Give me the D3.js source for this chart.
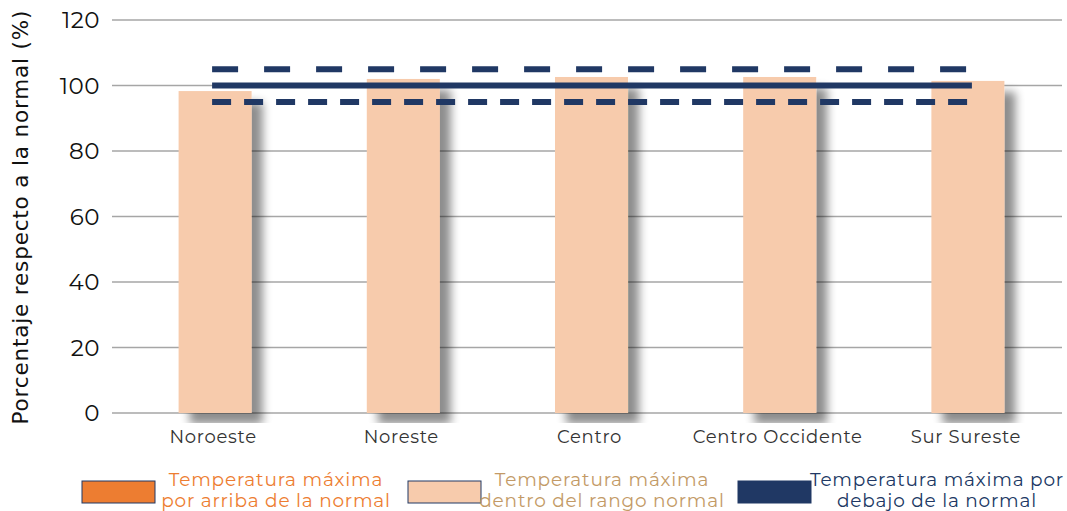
<!DOCTYPE html>
<html>
<head>
<meta charset="utf-8">
<script src="https://cdn.jsdelivr.net/npm/d3@7"></script>
<style>
  body { margin: 0; background: #fff; }
  svg { display: block; }
</style>
</head>
<body>
<div id="chart"></div>
<script>
// regions and their % of normal (max temperature)
var regions = ["Noroeste", "Noreste", "Centro", "Centro Occidente", "Sur Sureste"]
var values = [98.3, 102, 102.6, 102.6, 101.4]

// reference lines: lower limit, normal, upper limit
var refLines = [
    { value: 95, dash: "19,13" },
    { value: 100, dash: null },
    { value: 105, dash: "26,26" }
]

var yTicks = [0, 20, 40, 60, 80, 100, 120]

var legendItems = [
    { label: ["Temperatura máxima", "por arriba de la normal"], fill: "#ED7D31", text: "#ED7D31" },
    { label: ["Temperatura máxima", "dentro del rango normal"], fill: "#F7CBAC", text: "#C39A66" },
    { label: ["Temperatura máxima por", "debajo de la normal"], fill: "#203864", text: "#203864" }
]

var width = 1067
var height = 511
var navy = "#203864"
var font = "'Montserrat', 'Noto Sans', 'Open Sans', sans-serif"

var svg = d3.select("#chart").append("svg")
    .attr("width", width)
    .attr("height", height)

var defs = svg.append("defs")
var shadow = defs.append("filter")
    .attr("id", "shadow")
    .attr("x", "-30%").attr("y", "-10%")
    .attr("width", "180%").attr("height", "130%")
shadow.append("feGaussianBlur").attr("in", "SourceAlpha").attr("stdDeviation", 5).attr("result", "b")
shadow.append("feOffset").attr("in", "b").attr("dx", 11).attr("dy", 11).attr("result", "o")
shadow.append("feComponentTransfer").attr("in", "o").attr("result", "s")
    .append("feFuncA").attr("type", "linear").attr("slope", 0.45)
var merge = shadow.append("feMerge")
merge.append("feMergeNode").attr("in", "s")
merge.append("feMergeNode").attr("in", "SourceGraphic")

var y = d3.scaleLinear().domain([0, 120]).range([413, 20])
var x = d3.scaleBand().domain(regions).range([121, 1062])
    .paddingInner(0.612).paddingOuter(0.306)

// gridlines
svg.append("g").selectAll("line")
    .data(yTicks)
    .join("line")
    .attr("x1", 112).attr("x2", 1062)
    .attr("y1", function(d) { return y(d) })
    .attr("y2", function(d) { return y(d) })
    .attr("stroke", "#a6a6a6")
    .attr("stroke-width", 1.3)

// y tick labels
svg.append("g").selectAll("text")
    .data(yTicks)
    .join("text")
    .attr("x", 100)
    .attr("y", function(d) { return y(d) })
    .attr("dy", "0.36em")
    .attr("text-anchor", "end")
    .attr("font-family", font)
    .attr("font-size", 23)
    .attr("letter-spacing", 0.5)
    .attr("fill", "#111")
    .text(function(d) { return d })

// y title
svg.append("text")
    .attr("transform", "translate(28," + (y(60) + 1) + ") rotate(-90)")
    .attr("text-anchor", "middle")
    .attr("font-family", "'DejaVu Sans', sans-serif")
    .attr("font-size", 21.5)
    .attr("textLength", 414)
    .attr("fill", "#111")
    .text("Porcentaje respecto a la normal (%)")

// bars
svg.append("g").selectAll("rect")
    .data(values)
    .join("rect")
    .attr("x", function(d, i) { return x(regions[i]) })
    .attr("y", function(d) { return y(d) })
    .attr("width", x.bandwidth())
    .attr("height", function(d) { return y(0) - y(d) })
    .attr("fill", "#F7CBAC")
    .attr("filter", "url(#shadow)")

// category labels with white boxes
var labels = svg.append("g")
labels.selectAll("rect")
    .data(regions)
    .join("rect")
    .attr("x", function(d) { return x(d) + x.bandwidth() / 2 - 128 })
    .attr("y", 423)
    .attr("width", 185)
    .attr("height", 28)
    .attr("fill", "#fff")
labels.selectAll("text")
    .data(regions)
    .join("text")
    .attr("x", function(d) { return x(d) + x.bandwidth() / 2 - 2 })
    .attr("y", 437)
    .attr("dy", "0.35em")
    .attr("text-anchor", "middle")
    .attr("font-family", font)
    .attr("font-size", 18)
    .attr("letter-spacing", 0.7)
    .attr("fill", "#333")
    .text(function(d) { return d })

// reference lines
var lx0 = x(regions[0]) + x.bandwidth() / 2 - 3
var lx1 = x(regions[regions.length - 1]) + x.bandwidth() / 2 + 4
svg.append("g").selectAll("line")
    .data(refLines)
    .join("line")
    .attr("x1", lx0).attr("x2", lx1)
    .attr("y1", function(d) { return y(d.value) })
    .attr("y2", function(d) { return y(d.value) })
    .attr("stroke", navy)
    .attr("stroke-width", 6)
    .attr("stroke-dasharray", function(d) { return d.dash })

// legend
var legendX = [82, 408, 738]
var legend = svg.append("g").selectAll("g")
    .data(legendItems)
    .join("g")
    .attr("transform", function(d, i) { return "translate(" + legendX[i] + ",481)" })
legend.append("rect")
    .attr("width", 73).attr("height", 22)
    .attr("fill", function(d) { return d.fill })
    .attr("stroke", navy)
    .attr("stroke-width", 1)
legend.append("text")
    .attr("x", function(d, i) { return i == 2 ? 199 : 194 })
    .attr("y", 0)
    .attr("text-anchor", "middle")
    .attr("font-family", font)
    .attr("font-size", 18.5)
    .attr("letter-spacing", 0.8)
    .attr("fill", function(d) { return d.text })
    .selectAll("tspan")
    .data(function(d) { return d.label })
    .join("tspan")
    .attr("x", function() { return d3.select(this.parentNode).attr("x") })
    .attr("dy", function(d, i) { return i == 0 ? 5 : 21 })
    .text(function(d) { return d })
</script>
</body>
</html>
